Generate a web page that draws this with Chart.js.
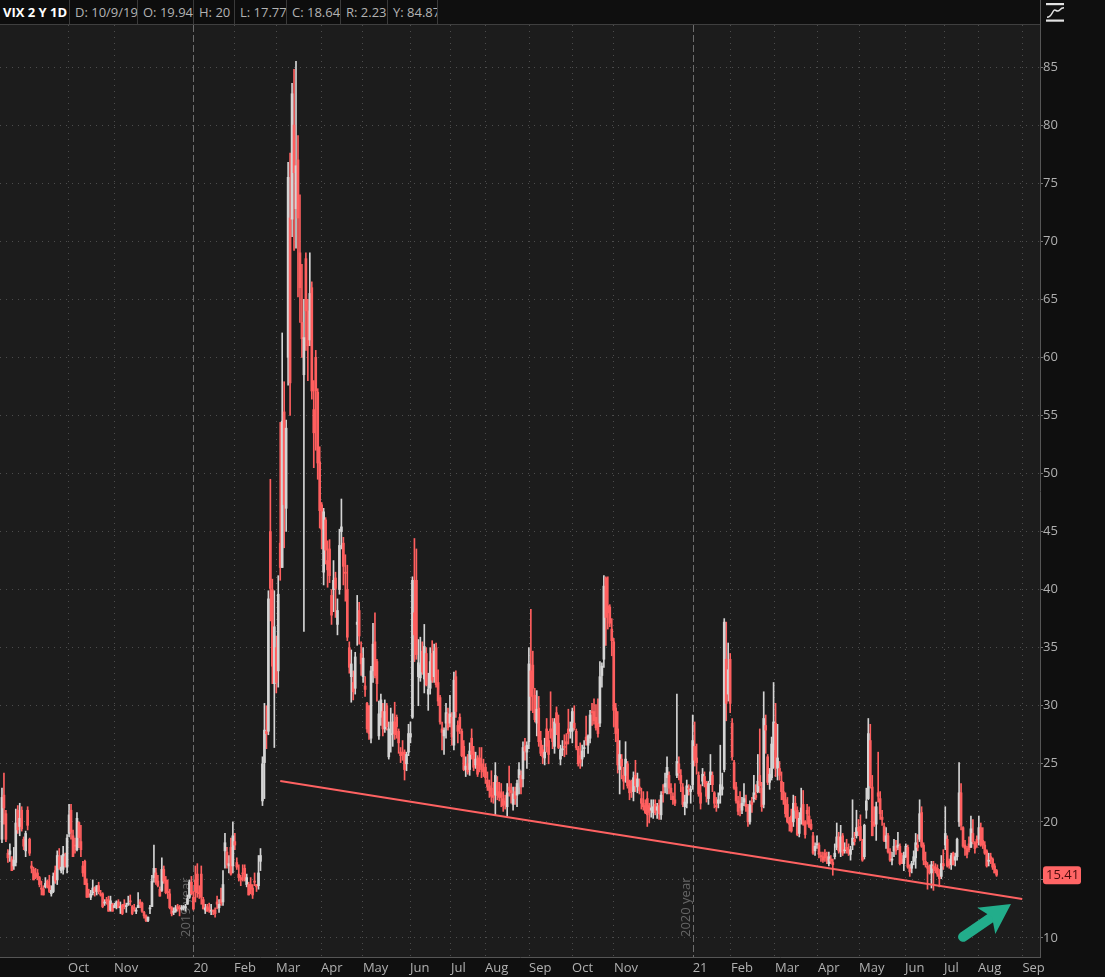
<!DOCTYPE html>
<html><head><meta charset="utf-8">
<script src="https://cdn.jsdelivr.net/npm/chart.js@4.4.1/dist/chart.umd.min.js"></script>
<style>
html,body{margin:0;padding:0;background:#0f0f0f;width:1105px;height:977px;overflow:hidden;}
#wrap{position:relative;width:1105px;height:977px;}
#c{position:absolute;left:0;top:0;}
#hdr{position:absolute;left:0;top:0;height:24px;display:flex;font-family:'Open Sans',sans-serif;font-size:13px;line-height:24px;color:#b3b3b3;background:#0d0d0d;}
#hdr div{box-sizing:border-box;border-right:1px solid #3a3a3a;padding-left:5px;white-space:nowrap;overflow:hidden;}
#hdr .t{color:#fff;font-weight:bold;padding-left:3px;}
#hline{position:absolute;left:0;top:24px;width:1040px;height:1px;background:#3f3f3f;}
#vline{position:absolute;left:1040px;top:0;width:1px;height:25px;background:#555;}
#icon{position:absolute;left:1045px;top:2px;}
</style></head>
<body><div id="wrap">
<canvas id="c" width="1105" height="977"></canvas>
<div id="hdr">
<div class="t" style="width:70px">VIX 2 Y 1D</div>
<div style="width:68px">D: 10/9/19</div>
<div style="width:56px">O: 19.94</div>
<div style="width:41px">H: 20</div>
<div style="width:52px">L: 17.77</div>
<div style="width:54px">C: 18.64</div>
<div style="width:47px">R: 2.23</div>
<div style="width:50px">Y: 84.87</div>
</div>
<div id="hline"></div><div id="vline"></div>
<svg id="icon" width="22" height="22" viewBox="0 0 22 22">
<rect x="1" y="1" width="18" height="2.2" fill="#e2e2e2"/>
<rect x="1" y="17.5" width="18" height="2.2" fill="#e2e2e2"/>
<path d="M2 15.3 C 8 15.3, 7 6, 11 8.5 S 14 5.8, 19 5.8" stroke="#e2e2e2" stroke-width="1.5" fill="none"/>
</svg>
</div>
<script>
// ---- Data (trading-day index 0 = 14 Aug 2019 ... 504 = 13 Aug 2021) ----
const opens = [
18.5,22.3,20.7,17.3,17.2,16.8,16.2,16.5,21.0,19.6,
21.0,18.5,17.5,21.0,18.5,16.2,15.9,15.5,15.6,15.2,
14.3,14.2,14.4,14.9,14.5,13.8,14.0,15.8,15.0,17.0,
15.8,15.9,17.0,16.1,19.0,21.0,18.8,18.0,17.6,19.94,
18.3,16.2,16.6,14.7,13.8,13.5,13.9,14.3,14.0,14.5,
13.8,13.8,13.0,13.2,13.3,12.4,12.9,12.6,12.8,13.1,
12.6,12.8,12.9,12.7,12.9,13.2,12.7,12.6,12.3,12.6,
13.1,13.0,12.2,11.9,11.5,12.5,12.7,15.2,15.6,14.9,
14.2,14.1,15.9,15.0,14.0,13.8,12.6,12.2,12.3,12.7,
12.6,12.5,12.6,12.6,12.9,13.5,14.8,13.5,15.0,15.5,
13.9,15.5,13.3,12.4,12.7,12.6,12.3,12.4,12.4,13.1,
12.6,13.3,13.1,17.5,17.4,16.2,17.8,16.2,18.3,16.5,
15.5,15.2,15.6,16.0,14.6,14.6,14.6,14.3,14.9,14.6,
14.5,16.6,21.8,25.1,27.8,27.8,45.0,40.0,31.9,35.0,
33.0,44.0,41.9,55.3,47.0,60.0,72.0,71.9,80.0,72.8,
77.0,69.0,63.0,58.5,68.5,64.0,61.5,66.0,55.5,60.0,
57.0,51.0,47.3,41.5,46.0,42.5,43.5,39.5,40.0,41.0,
37.0,40.0,45.0,44.0,41.5,40.0,35.0,32.5,32.0,31.5,
37.0,38.2,34.5,32.5,31.7,30.2,30.0,27.2,33.0,35.5,
33.8,27.4,29.0,29.5,28.0,30.0,25.6,27.5,27.6,28.6,
29.0,27.8,26.0,26.0,26.0,25.0,26.0,27.3,29.0,38.0,
40.8,32.5,32.4,34.7,32.3,34.5,31.0,31.5,34.5,32.5,
35.0,32.0,30.7,28.0,27.4,28.5,29.3,28.5,29.0,26.6,
32.5,28.3,29.0,27.8,26.5,24.5,25.0,24.5,27.2,26.0,
24.9,25.5,25.5,25.0,24.5,24.7,23.6,23.1,22.9,22.3,
22.3,23.4,22.6,22.5,22.0,21.8,21.3,23.0,22.7,21.5,
22.6,22.3,23.8,24.0,23.7,26.5,26.0,26.9,33.0,33.5,
30.9,28.5,29.8,27.0,26.2,25.5,28.0,27.0,28.0,28.0,
26.5,29.4,28.5,25.4,26.2,26.5,26.9,28.0,27.8,27.8,
28.5,27.8,26.3,25.7,25.4,26.3,27.3,26.6,27.2,29.5,
29.5,29.0,28.5,28.5,32.6,34.0,41.0,38.6,38.5,36.6,
35.5,29.8,28.0,24.5,25.4,24.0,24.0,25.0,23.5,23.0,
22.6,24.0,23.0,23.0,22.0,21.6,21.4,22.0,21.4,21.0,
20.8,21.5,21.0,21.4,20.6,22.6,23.0,23.8,24.0,22.9,
22.2,21.9,24.0,25.0,24.0,23.0,21.3,21.6,22.9,22.6,
23.2,26.5,25.5,24.0,22.5,23.5,23.9,23.4,22.0,23.5,
24.0,22.5,21.4,21.6,22.3,22.8,24.5,34.0,31.0,34.0,
28.5,25.1,23.0,21.8,21.5,21.0,21.7,21.5,21.3,20.0,
21.7,22.0,22.3,22.6,24.0,22.9,21.5,28.3,25.6,23.4,
23.8,26.2,28.5,24.6,24.6,23.5,22.6,21.9,21.5,20.0,
20.5,20.0,21.6,21.0,19.0,20.2,21.5,20.0,21.0,20.5,
19.8,18.8,17.5,18.0,18.0,17.1,17.0,17.3,17.0,16.4,
16.8,16.5,17.0,17.8,18.7,17.4,18.8,17.5,17.8,17.6,
17.2,18.0,18.5,18.8,19.5,19.6,18.3,17.0,21.0,22.0,
27.0,23.0,20.0,19.8,22.5,22.0,20.4,19.6,18.3,18.8,
17.4,16.7,17.5,17.9,17.8,17.9,16.8,16.4,17.0,17.8,
16.1,16.0,16.6,16.9,18.0,18.5,20.8,18.0,16.6,16.2,
16.0,15.6,16.2,16.1,16.0,15.5,15.3,16.4,18.0,18.5,
16.6,16.3,17.3,16.7,17.0,20.0,22.5,19.5,18.0,17.7,
18.1,17.8,19.0,18.2,18.5,18.5,19.5,18.4,18.0,17.5,
16.6,17.0,16.8,16.2,15.8];
const highs = [
22.9,24.2,21.0,17.6,18.1,17.0,17.8,21.1,21.4,21.6,
21.3,18.7,19.2,21.3,18.6,16.6,16.1,16.0,15.9,15.3,
14.9,14.5,15.2,15.0,15.4,14.5,15.6,16.2,17.5,17.7,
17.1,17.9,17.3,18.9,21.5,21.5,19.3,18.6,20.8,20.0,
19.7,16.6,16.7,15.1,14.2,14.1,15.0,14.4,14.5,14.8,
14.1,13.9,13.3,13.5,13.6,13.6,13.0,13.0,13.2,13.3,
13.1,12.9,13.3,13.0,13.6,13.7,12.8,12.9,12.6,13.9,
13.3,13.1,12.3,12.0,11.8,12.8,15.4,18.0,16.0,15.4,
14.4,16.9,16.2,15.3,15.0,14.2,12.7,12.6,12.8,12.9,
12.8,12.8,12.8,12.9,13.7,15.0,15.3,14.0,16.2,16.4,
14.5,16.2,13.5,12.9,12.9,13.0,12.9,12.4,12.6,13.6,
13.3,14.3,15.8,19.0,17.8,17.1,18.6,20.0,19.0,16.9,
16.3,15.4,16.3,16.3,15.5,14.8,15.2,14.6,15.6,14.6,
17.1,17.7,25.6,30.2,30.0,39.9,49.5,40.9,39.9,36.0,
41.2,54.4,62.1,57.9,54.6,76.8,77.6,83.6,84.8,85.5,
79.1,74.0,68.0,65.0,69.0,65.0,69.0,66.5,58.0,60.6,
57.3,52.3,47.5,47.0,46.2,44.2,44.3,40.0,42.5,41.5,
39.2,45.2,47.8,44.5,43.0,42.1,35.5,34.8,33.0,34.6,
39.5,38.9,35.5,35.0,32.5,30.3,30.0,33.4,37.1,38.0,
34.0,30.4,31.0,30.2,30.5,30.2,28.6,29.8,29.3,30.3,
29.2,28.0,26.4,27.0,26.2,26.0,28.4,28.6,41.1,44.4,
43.5,35.7,35.9,35.5,37.0,35.0,32.8,35.0,35.6,35.3,
35.4,33.1,30.9,28.6,28.1,30.2,29.8,30.9,29.4,32.9,
33.0,28.7,29.3,28.0,27.0,25.6,25.8,26.8,28.0,26.5,
26.0,25.7,26.4,26.4,25.4,25.0,24.3,23.6,24.4,23.4,
25.1,23.9,23.4,23.3,22.6,22.3,23.3,24.8,23.3,23.0,
23.0,23.6,25.1,24.4,26.9,27.2,26.9,35.0,38.3,34.7,
31.5,31.3,30.8,27.8,26.6,27.2,28.9,27.8,31.2,28.9,
28.9,29.9,29.2,26.6,27.0,27.5,27.6,29.7,28.6,29.8,
30.0,28.0,26.5,26.8,26.6,27.0,29.1,27.5,29.6,30.2,
30.6,30.1,30.6,33.8,33.7,41.2,41.1,41.1,38.7,37.5,
35.8,30.2,29.5,27.0,25.8,24.7,26.9,25.2,23.6,23.6,
24.3,25.3,24.2,23.7,22.9,22.6,21.9,22.6,21.6,21.9,
21.9,21.9,21.6,21.9,22.6,23.2,24.2,25.6,24.3,23.3,
22.5,23.3,31.0,25.6,24.5,23.3,22.3,23.6,23.2,23.1,
29.2,28.6,26.7,24.3,23.2,24.6,24.3,23.5,23.5,25.8,
24.3,22.6,22.1,22.5,26.6,24.2,37.5,37.2,35.4,34.5,
28.9,25.3,23.4,22.2,22.6,22.1,23.3,22.3,21.5,21.8,
22.1,24.0,23.2,25.8,28.0,23.4,31.2,29.2,25.8,24.6,
27.3,32.0,30.2,28.4,25.2,24.3,23.4,22.5,22.1,20.4,
21.1,22.3,22.2,21.3,20.8,22.9,22.7,20.1,21.5,21.3,
20.2,19.1,18.2,18.8,18.2,17.4,17.4,17.6,17.4,17.4,
17.1,16.8,18.1,19.9,19.1,19.7,19.0,18.2,18.5,18.1,
17.9,21.9,19.1,21.0,20.2,20.6,18.5,19.8,22.9,28.9,
28.4,24.0,21.3,21.7,26.0,22.6,21.0,19.9,19.5,19.0,
17.7,17.4,18.5,18.4,19.1,18.1,17.3,17.4,18.1,18.0,
16.3,16.6,17.5,19.0,18.9,21.9,21.3,18.2,17.4,16.5,
16.3,16.6,16.6,16.4,16.3,15.9,17.1,17.6,21.3,18.8,
16.8,17.3,17.4,17.3,18.6,25.1,23.3,19.6,18.4,17.9,
18.7,20.5,20.2,18.3,18.8,20.5,19.9,19.5,18.3,17.6,
17.3,17.3,16.9,16.4,15.9];
const lows = [
18.2,19.8,18.3,16.5,16.6,15.8,15.9,16.2,19.0,18.8,
19.2,17.6,17.0,19.3,17.1,15.6,15.0,15.1,15.0,14.4,
13.7,13.7,14.3,14.3,13.9,13.6,13.9,14.7,14.6,15.9,
15.6,15.5,16.1,15.6,18.7,18.5,17.0,17.3,17.5,17.77,
17.0,15.3,14.6,13.5,13.5,13.3,13.7,13.6,13.7,13.8,
13.6,12.6,12.8,12.9,12.3,12.3,12.3,12.6,12.5,12.6,
12.1,12.0,12.5,12.2,12.8,12.8,12.0,12.3,12.1,12.6,
12.6,12.2,11.7,11.4,11.4,12.1,12.7,14.8,14.6,14.4,
13.6,14.0,14.7,13.8,13.4,12.5,11.9,12.0,12.2,12.3,
11.9,12.4,12.4,12.3,12.9,13.4,13.7,12.4,13.1,13.5,
13.4,12.9,12.5,12.1,12.3,12.2,12.0,12.0,11.8,12.5,
12.2,12.8,12.8,16.0,16.0,15.6,15.4,15.6,17.6,15.9,
14.9,14.5,14.9,14.9,14.4,13.7,13.8,13.4,14.5,14.0,
14.2,15.8,21.4,22.0,26.3,27.5,37.3,31.9,26.4,31.1,
31.6,40.8,41.9,43.6,45.0,57.6,55.0,70.4,69.2,69.4,
65.2,63.0,60.0,36.4,60.6,58.0,61.0,56.4,50.5,52.0,
49.5,45.3,43.5,40.4,42.2,40.2,40.6,37.0,38.1,37.6,
36.1,39.6,43.5,40.4,39.0,35.6,32.8,30.3,30.5,31.0,
35.2,35.3,32.6,32.0,30.8,27.7,27.1,26.8,32.0,32.4,
30.4,27.1,28.3,27.4,27.7,27.9,25.4,26.0,26.5,27.1,
27.2,25.9,25.1,25.3,23.6,24.4,25.7,26.8,28.9,33.8,
34.0,30.0,32.1,32.7,31.1,31.7,29.6,31.0,32.0,32.0,
31.6,30.0,28.4,26.2,25.8,27.2,27.9,28.2,26.6,26.2,
29.0,26.8,27.6,25.6,24.4,23.9,24.1,24.0,25.4,24.4,
24.6,23.9,24.3,23.8,23.9,23.3,22.7,22.1,21.7,21.6,
20.6,21.9,21.8,21.3,20.9,21.1,20.5,22.2,21.6,21.0,
21.5,21.3,22.4,22.4,23.0,25.3,24.6,26.3,29.6,29.4,
28.6,27.4,26.5,25.7,25.0,24.9,26.0,25.0,27.2,26.3,
25.9,27.5,26.3,24.9,25.7,25.6,25.8,26.7,27.2,26.8,
27.9,26.2,24.8,24.6,24.8,25.6,26.6,25.9,26.8,28.3,
28.4,27.9,27.3,28.2,31.6,33.3,35.2,36.6,36.8,34.3,
28.2,26.9,24.2,22.4,23.7,22.8,23.4,22.9,21.9,22.1,
21.8,22.6,22.5,22.4,21.1,21.0,20.7,19.6,19.9,20.4,
20.3,20.6,20.3,20.2,20.2,21.7,22.5,22.4,22.4,21.9,
21.5,21.4,23.8,23.6,22.6,21.3,20.6,21.2,22.3,21.6,
22.8,24.8,24.1,22.2,21.1,23.1,23.0,21.7,21.5,23.2,
22.6,21.2,20.9,21.2,21.6,22.3,24.3,28.7,30.4,29.4,
25.3,22.8,21.6,20.6,20.5,20.7,21.4,20.9,19.6,19.8,
20.8,21.7,21.9,22.5,22.5,20.9,21.2,25.9,23.2,22.8,
23.6,24.6,23.9,23.6,23.6,21.9,21.5,20.4,19.9,19.2,
19.1,19.6,20.3,18.8,18.7,19.8,19.7,18.6,19.8,19.5,
19.3,17.2,17.1,17.7,16.9,16.6,16.5,16.6,16.4,16.2,
16.4,15.4,16.8,17.6,17.3,17.0,17.1,17.3,17.3,17.1,
16.7,17.6,18.0,18.6,18.8,18.4,16.6,16.8,20.3,21.9,
22.9,18.8,19.6,18.4,21.7,20.2,19.7,18.3,17.7,17.3,
16.6,16.3,17.0,17.2,17.6,16.3,16.4,15.8,16.9,16.0,
15.3,15.6,16.3,16.0,17.5,18.3,17.8,16.3,16.1,14.2,
15.5,14.3,14.1,15.6,15.3,14.4,15.1,15.9,17.6,16.1,
16.0,15.9,16.3,16.2,16.7,19.6,19.3,17.8,17.1,16.9,
17.4,17.8,18.1,17.3,17.8,18.0,17.9,17.7,17.2,16.1,
16.2,16.4,15.9,15.6,15.3];
const closes = [
22.1,21.2,18.5,16.9,17.5,15.8,16.7,19.9,19.3,20.3,
19.4,17.9,19.0,19.7,17.3,16.0,15.0,15.3,15.2,14.6,
14.2,13.7,14.7,14.4,14.0,14.1,15.3,14.9,17.1,16.0,
16.1,17.2,16.2,18.6,20.6,19.1,17.0,17.9,20.3,18.64,
17.6,15.6,14.6,13.5,13.7,13.8,14.3,14.0,14.5,14.0,
13.7,12.7,13.1,13.2,12.3,13.2,12.3,12.8,13.1,12.6,
12.7,12.1,12.7,12.8,13.0,13.1,12.1,12.5,12.4,12.8,
12.9,12.3,11.9,11.5,11.8,12.6,14.9,16.0,14.8,14.5,
13.6,15.9,14.9,13.9,13.9,12.6,12.1,12.3,12.6,12.5,
12.5,12.6,12.7,12.7,13.4,14.8,13.8,12.5,14.0,13.9,
13.8,13.5,12.5,12.6,12.3,12.4,12.4,12.3,12.1,12.9,
12.9,13.0,14.6,18.2,16.3,16.4,15.5,18.8,18.0,16.1,
15.2,15.0,15.5,15.0,15.2,13.7,14.2,13.7,14.8,14.4,
15.6,17.1,25.0,27.9,27.6,39.2,40.1,33.4,36.8,32.0,
39.6,41.9,54.5,47.3,53.9,75.5,57.8,82.7,75.9,76.5,
72.0,66.0,61.6,61.7,64.0,61.0,65.5,57.1,53.5,57.1,
50.9,46.8,45.2,46.7,43.4,41.7,41.2,37.8,40.8,40.1,
38.2,43.8,45.4,42.0,41.4,35.9,33.3,33.6,31.2,34.2,
37.2,36.0,33.6,34.1,31.4,28.0,27.6,33.0,35.3,32.6,
31.9,29.3,30.5,28.0,29.5,28.2,28.0,27.6,28.6,27.5,
28.2,26.8,25.7,25.8,24.5,25.8,27.6,27.6,40.8,36.1,
34.4,33.7,33.5,32.9,35.1,31.8,31.4,33.8,32.2,34.7,
31.8,30.4,28.6,27.7,27.9,29.4,28.1,29.3,27.3,32.2,
29.5,27.8,28.0,25.7,24.5,24.8,24.3,26.1,25.8,24.7,
25.4,24.1,24.8,24.5,24.3,23.8,23.0,22.7,22.2,22.1,
24.0,22.3,22.1,22.1,21.4,21.5,22.5,22.7,22.5,22.4,
22.0,23.3,24.5,23.0,26.4,26.1,26.6,33.6,30.8,31.5,
28.8,29.7,26.9,25.9,25.6,26.0,26.5,25.8,27.8,26.9,
28.6,28.5,26.4,26.2,26.3,26.4,26.7,27.6,28.0,29.5,
28.1,26.4,25.0,25.1,26.1,26.4,27.0,27.4,29.2,29.4,
28.7,28.1,27.6,32.5,33.4,40.3,37.6,38.0,37.1,35.6,
29.6,27.6,24.9,25.8,24.8,23.5,25.4,23.1,22.5,22.7,
23.8,23.1,23.7,22.7,21.6,21.3,20.8,20.6,20.8,21.2,
21.3,20.8,21.3,20.7,22.3,22.5,23.3,24.7,22.9,22.5,
21.9,21.6,25.2,24.2,23.3,21.5,21.7,23.1,22.8,22.8,
27.0,25.3,25.1,22.4,21.6,24.1,23.3,22.2,23.3,24.3,
23.2,21.6,21.3,21.9,23.2,23.0,37.2,30.2,33.1,30.2,
25.6,22.9,21.8,20.9,21.2,21.6,22.0,21.3,20.0,21.5,
21.5,22.5,22.1,23.5,23.1,21.3,28.9,27.9,23.4,24.1,
26.7,28.6,24.7,25.5,24.0,22.6,21.9,20.7,20.0,19.8,
19.2,21.6,21.0,18.9,20.3,21.2,19.8,18.9,20.7,19.6,
19.4,17.3,17.9,18.1,17.2,17.0,16.7,16.9,16.7,17.0,
16.6,16.3,17.3,18.7,17.5,18.7,17.3,17.6,17.6,17.3,
17.6,18.6,18.3,19.5,19.2,18.4,16.7,19.7,21.8,27.6,
23.1,18.8,19.7,21.3,22.2,20.7,20.2,18.4,18.8,17.4,
16.7,16.8,17.9,17.5,18.0,16.4,16.4,17.1,17.9,16.1,
15.7,16.4,17.0,18.2,17.8,20.7,17.9,16.7,16.3,16.0,
15.6,16.3,16.0,15.8,15.5,15.1,16.4,16.2,19.0,16.2,
16.2,17.1,16.3,17.0,18.5,22.5,19.7,17.9,17.7,17.2,
17.6,19.4,18.3,17.7,18.2,19.5,18.0,18.0,17.3,16.2,
16.7,16.8,16.1,15.6,15.41];

// month ticks (trading-day index where the platform placed each month label) and labels
const monthTickIdx = [33.5,56.8,97,117.6,138.9,161.7,182.9,206.8,227.5,244.8,267.1,288.9,310.1,350,369.4,391.7,413.5,434.3,457.6,477.4,494.6,517.1];
const monthTickLabels = ['Oct','Nov','20','Feb','Mar','Apr','May','Jun','Jul','Aug','Sep','Oct','Nov','21','Feb','Mar','Apr','May','Jun','Jul','Aug','Sep'];
const yearLineIdx = [97,350];
const yearLineLabels = ['2019 year','2020 year'];
const yTicks = [10,15,20,25,30,35,40,45,50,55,60,65,70,75,80,85];
// support trendline (index, value)
const trendIdx = [141,517];
const trendVal = [23.52,13.36];
// annotation arrow (index, value)
const arrowFrom = [487.0,10.1];
const arrowTo = [511.3,12.93];

const UP = '#d4d4d4', DOWN = '#ff5f5f';
const idx = opens.map((_,i)=>i);
const candleColor = idx.map(i => closes[i] > opens[i] ? UP : DOWN);

const decor = {
  id:'decor',
  beforeDraw(chart){
    const {ctx, chartArea:a} = chart;
    ctx.save();
    ctx.fillStyle = '#0f0f0f'; ctx.fillRect(0,0,chart.width,chart.height);
    ctx.fillStyle = '#1c1c1c'; ctx.fillRect(a.left,a.top,a.right-a.left,a.bottom-a.top);
    ctx.restore();
  },
  beforeDatasetsDraw(chart){
    const {ctx, chartArea:a, scales:{x}} = chart;
    yearLineIdx.forEach((v,k)=>{
      const px = Math.round(x.getPixelForValue(v)) + 0.5;
      ctx.save();
      ctx.strokeStyle = '#6c6c6c'; ctx.lineWidth = 1; ctx.setLineDash([7,3]);
      ctx.beginPath(); ctx.moveTo(px,a.top); ctx.lineTo(px,a.bottom); ctx.stroke();
      ctx.restore();
      ctx.save();
      ctx.translate(px-7, a.bottom-20);
      ctx.rotate(-Math.PI/2);
      ctx.fillStyle = '#666'; ctx.font = '13px "Open Sans"';
      ctx.textAlign = 'left'; ctx.textBaseline = 'middle';
      ctx.fillText(yearLineLabels[k],0,0);
      ctx.restore();
    });
  },
  afterDatasetsDraw(chart){
    const {ctx, scales:{x,y}} = chart;
    const tx = x.getPixelForValue(arrowFrom[0]), ty = y.getPixelForValue(arrowFrom[1]);
    const hx = x.getPixelForValue(arrowTo[0]), hy = y.getPixelForValue(arrowTo[1]);
    const dx = hx-tx, dy = hy-ty, L = Math.hypot(dx,dy), ux = dx/L, uy = dy/L, nx = -uy, ny = ux;
    const headLen = 28, half = 16;
    const bx = hx-ux*headLen, by = hy-uy*headLen;
    ctx.save();
    ctx.strokeStyle = '#22ad8b'; ctx.fillStyle = '#22ad8b';
    ctx.lineWidth = 10; ctx.lineCap = 'round';
    ctx.beginPath(); ctx.moveTo(tx,ty); ctx.lineTo(bx+ux*3,by+uy*3); ctx.stroke();
    ctx.beginPath();
    ctx.moveTo(hx,hy);
    ctx.lineTo(bx+nx*half-ux*2, by+ny*half-uy*2);
    ctx.lineTo(bx+ux*5, by+uy*5);
    ctx.lineTo(bx-nx*half-ux*2, by-ny*half-uy*2);
    ctx.closePath(); ctx.fill();
    ctx.restore();
  },
  afterDraw(chart){
    const {ctx, scales:{y}, chartArea:a} = chart;
    const last = closes[closes.length-1];
    const py = y.getPixelForValue(last);
    const bx = a.right+3, bw = 38, bh = 18;
    ctx.save();
    ctx.fillStyle = '#ff6565';
    ctx.beginPath();
    if (ctx.roundRect) ctx.roundRect(bx, py-bh/2, bw, bh, 3); else ctx.rect(bx, py-bh/2, bw, bh);
    ctx.fill();
    ctx.fillStyle = '#4a0c0c'; ctx.font = '13px "Open Sans"';
    ctx.textAlign = 'left'; ctx.textBaseline = 'middle';
    ctx.fillText(last.toFixed(2), bx+3, py+0.5);
    ctx.restore();
  }
};

const tickFont = {family:'"Open Sans"', size:13};
new Chart(document.getElementById('c'), {
  type:'bar',
  data:{
    datasets:[
      {type:'line', data: trendIdx.map((v,k)=>({x:v, y:trendVal[k]})), borderColor:'#ff6262', borderWidth:2, pointRadius:0, order:0},
      {type:'bar', data: idx.map(i=>({x:i, y:[Math.min(opens[i],closes[i]), Math.max(opens[i],closes[i])]})), backgroundColor: candleColor, barThickness:2, minBarLength:1, grouped:false, order:1},
      {type:'bar', data: idx.map(i=>({x:i, y:[lows[i], highs[i]]})), backgroundColor: candleColor, barThickness:1, grouped:false, order:2}
    ]
  },
  options:{
    responsive:false, animation:false, devicePixelRatio:1,
    layout:{padding:{top:25,left:0,right:0,bottom:0}},
    plugins:{legend:{display:false}, tooltip:{enabled:false}},
    scales:{
      x:{type:'linear', min:-1, max:526, offset:false,
        afterBuildTicks(s){ s.ticks = monthTickIdx.map(v=>({value:v})); },
        afterFit(s){ s.height = 20; },
        ticks:{autoSkip:false, maxRotation:0, minRotation:0, align:'start', padding:3, color:'#b0b0b0', font:tickFont,
          callback:(v,i)=>monthTickLabels[i]},
        grid:{offset:false, drawTicks:false, lineWidth:1,
          color:(c)=> (c.tick && yearLineIdx.includes(c.tick.value)) ? 'rgba(0,0,0,0)' : '#4c4c4c'},
        border:{display:true, color:'#555', width:1, dash:[1,5]}
      },
      y:{position:'right', min:8.36, max:88.62,
        afterBuildTicks(s){ s.ticks = yTicks.map(v=>({value:v})); },
        afterFit(s){ s.width = 65; },
        ticks:{padding:0, color:'#b0b0b0', font:tickFont},
        grid:{color:'#4c4c4c', drawTicks:true, tickLength:3, tickColor:'#777', lineWidth:1},
        border:{display:true, color:'#555', width:1, dash:[1,5]}
      }
    }
  },
  plugins:[decor]
});
</script>
</body></html>
